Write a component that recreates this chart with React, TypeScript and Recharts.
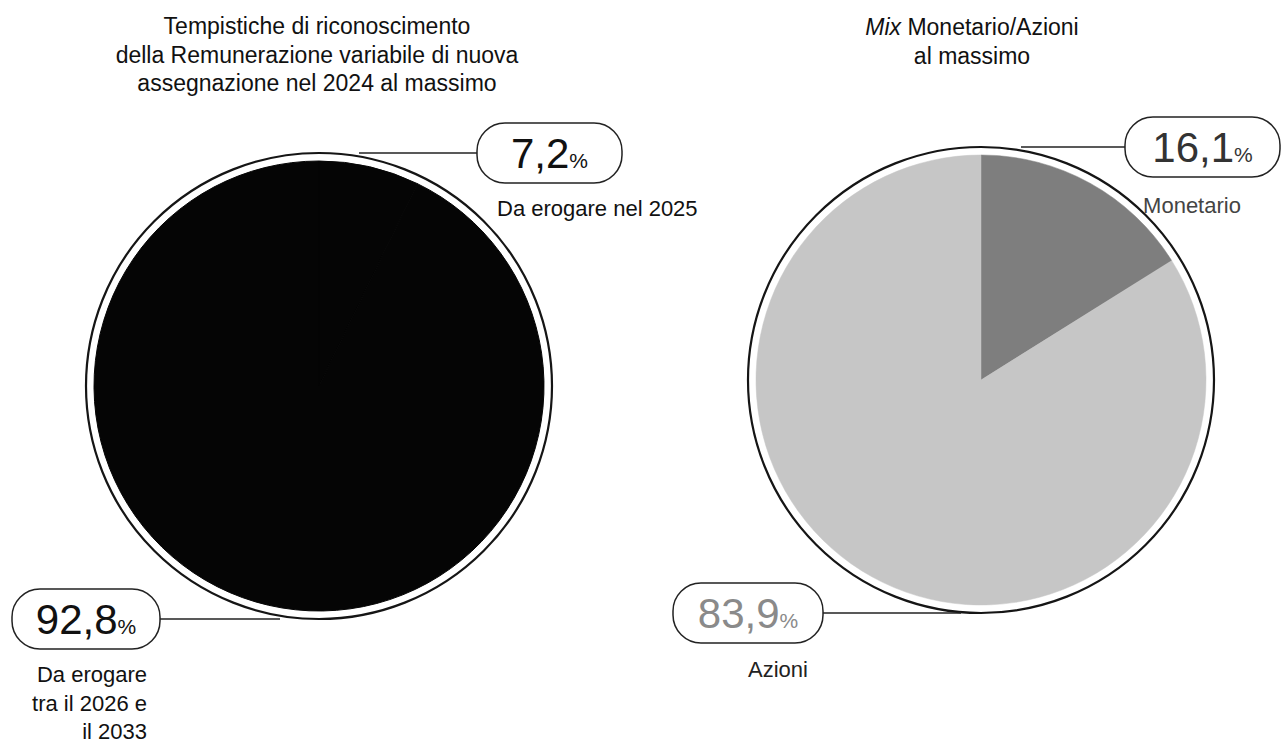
import React from 'react';
import { PieChart, Pie, Cell } from 'recharts';

// ---- data ----
const leftCategories = ['Da erogare nel 2025', 'Da erogare tra il 2026 e il 2033'];
const leftValues = [7.2, 92.8];
const leftSubLabels = [['Da erogare nel 2025'], ['Da erogare', 'tra il 2026 e', 'il 2033']];
const leftTitle = ['Tempistiche di riconoscimento', 'della Remunerazione variabile di nuova', 'assegnazione nel 2024 al massimo'];

const rightCategories = ['Monetario', 'Azioni'];
const rightValues = [16.1, 83.9];
const rightSubLabels = [['Monetario'], ['Azioni']];
const rightTitleItalic = 'Mix';
const rightTitle = [' Monetario/Azioni', 'al massimo'];

const leftData = leftCategories.map((name, i) => ({ name, value: leftValues[i] }));
const rightData = rightCategories.map((name, i) => ({ name, value: rightValues[i] }));

const FONT = '"Liberation Sans", Arial, Helvetica, sans-serif';
const fmt = (v: number) => v.toFixed(1).replace('.', ',');

type SideCfg = {
  boxDx: number;
  boxW: number;
  lineDx: number;
  subDx: number;
  subAnchor: 'start' | 'middle' | 'end';
  subDy: number[];
  digitColor: string;
  subColor: string;
};

const makeLabel = (cfg: SideCfg[], subs: string[][]) => (props: any) => {
  const { cx, cy, outerRadius, index, value } = props;
  const R = outerRadius + 8;
  const c = cfg[index];
  const isTop = index === 0;
  const ly = isTop ? cy - R : cy + R;
  const bx = cx + c.boxDx;
  const lineX1 = isTop ? cx + c.lineDx : bx + c.boxW;
  const lineX2 = isTop ? bx : cx + c.lineDx;
  return (
    <g key={`lbl-${index}`}>
      {index === 0 && (
        <circle cx={cx} cy={cy} r={R} fill="none" stroke="#151515" strokeWidth={2.2} />
      )}
      <line x1={lineX1} y1={ly} x2={lineX2} y2={ly} stroke="#222" strokeWidth={1.4} />
      <rect x={bx} y={ly - 30} width={c.boxW} height={60} rx={28} ry={28} fill="#fff" stroke="#222" strokeWidth={1.5} />
      <text x={bx + c.boxW / 2} y={ly + 15} textAnchor="middle" fontFamily={FONT} fill={c.digitColor}>
        <tspan fontSize={42}>{fmt(value)}</tspan>
        <tspan fontSize={21}>%</tspan>
      </text>
      <text x={cx + c.subDx} textAnchor={c.subAnchor} fontFamily={FONT} fontSize={22} fill={c.subColor}>
        {subs[index].map((s, k) => (
          <tspan key={k} x={cx + c.subDx} y={ly + c.subDy[k]}>{s}</tspan>
        ))}
      </text>
    </g>
  );
};

const leftCfg: SideCfg[] = [
  { boxDx: 158, boxW: 145, lineDx: 40, subDx: 178, subAnchor: 'start', subDy: [63], digitColor: '#111', subColor: '#111' },
  { boxDx: -307, boxW: 148, lineDx: -39, subDx: -172, subAnchor: 'end', subDy: [63, 92, 120], digitColor: '#111', subColor: '#111' },
];
const rightCfg: SideCfg[] = [
  { boxDx: 144, boxW: 155, lineDx: 40, subDx: 211, subAnchor: 'middle', subDy: [66], digitColor: '#333', subColor: '#444' },
  { boxDx: -308, boxW: 150, lineDx: -20, subDx: -203, subAnchor: 'middle', subDy: [64], digitColor: '#8a8a8a', subColor: '#222' },
];

const leftColors = ['#050505', '#050505'];
const rightColors = ['#7e7e7e', '#c6c6c6'];

export default function App() {
  return (
    <div style={{ position: 'absolute', left: 0, top: 0, width: 1282, height: 745, background: '#fff' }}>
      <PieChart width={1282} height={745} margin={{ top: 0, right: 0, bottom: 0, left: 0 }}>
        <Pie
          data={leftData}
          dataKey="value"
          nameKey="name"
          cx={319}
          cy={386}
          outerRadius={225}
          startAngle={90}
          endAngle={-270}
          isAnimationActive={false}
          labelLine={false}
          label={makeLabel(leftCfg, leftSubLabels)}
        >
          {leftData.map((d, i) => (
            <Cell key={d.name} fill={leftColors[i]} stroke={leftColors[i]} strokeWidth={1} />
          ))}
        </Pie>
        <Pie
          data={rightData}
          dataKey="value"
          nameKey="name"
          cx={981}
          cy={380}
          outerRadius={225}
          startAngle={90}
          endAngle={-270}
          isAnimationActive={false}
          labelLine={false}
          label={makeLabel(rightCfg, rightSubLabels)}
        >
          {rightData.map((d, i) => (
            <Cell key={d.name} fill={rightColors[i]} stroke={rightColors[i]} strokeWidth={0.5} />
          ))}
        </Pie>
      </PieChart>
      <svg width={1282} height={120} style={{ position: 'absolute', left: 0, top: 0, pointerEvents: 'none' }}>
        <text textAnchor="middle" fontFamily={FONT} fontSize={23} fill="#111">
          {leftTitle.map((t, i) => (
            <tspan key={i} x={317} y={34 + i * 28.5}>{t}</tspan>
          ))}
        </text>
        <text x={972} y={35} textAnchor="middle" fontFamily={FONT} fontSize={23} fill="#111">
          <tspan fontStyle="italic">{rightTitleItalic}</tspan>
          <tspan>{rightTitle[0]}</tspan>
        </text>
        <text x={972} y={63.5} textAnchor="middle" fontFamily={FONT} fontSize={23} fill="#111">
          {rightTitle[1]}
        </text>
      </svg>
    </div>
  );
}
